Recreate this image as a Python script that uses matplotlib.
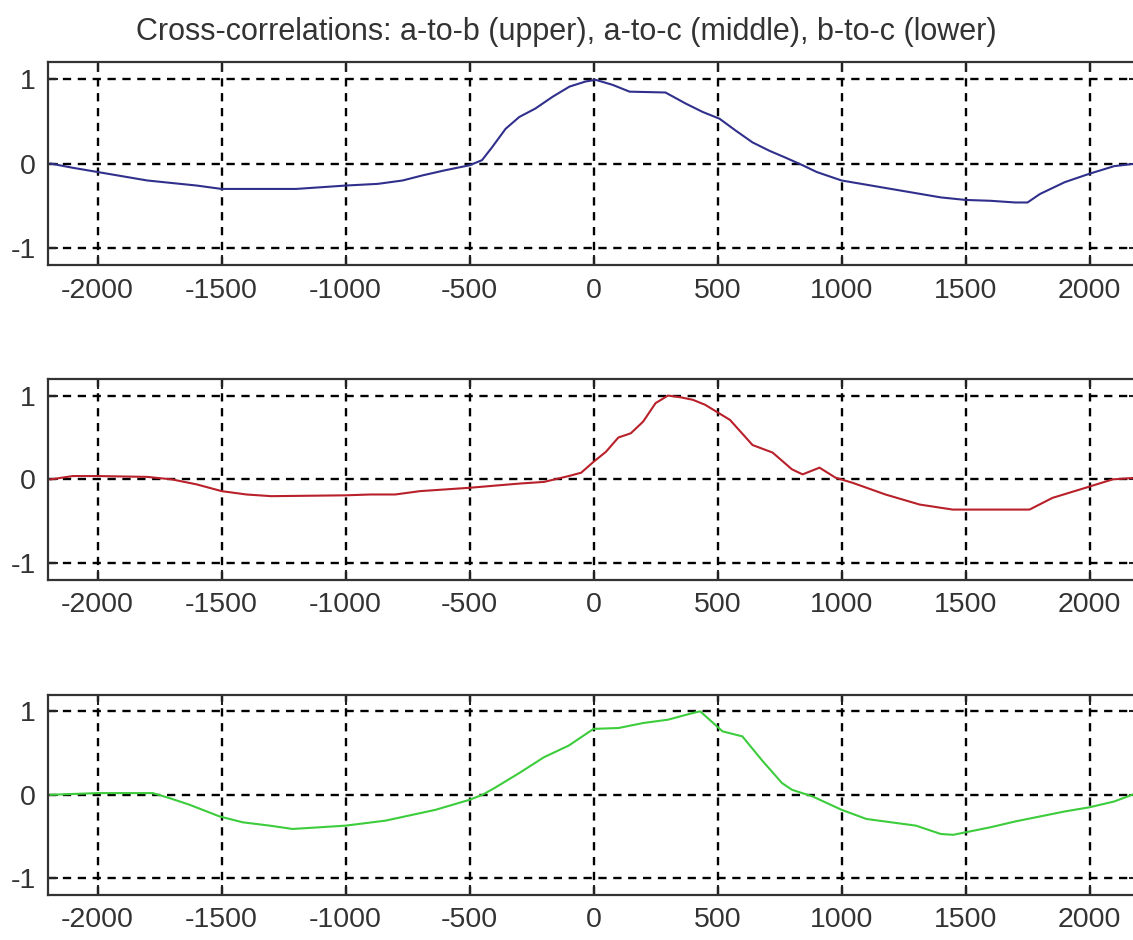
import numpy as np
import matplotlib
matplotlib.use("Agg")
import matplotlib.pyplot as plt

plt.rcParams['font.family'] = ['Liberation Sans', 'DejaVu Sans']
plt.rcParams['axes.unicode_minus'] = False

# lag values
lag_ab = [-2190, -2100, -2000, -1800, -1600, -1500, -1200, -1000, -870, -770, -690, -600,
          -500, -450, -410, -355, -300, -235, -165, -97, -32, 8, 77, 145, 290, 371,
          440, 508, 573, 641, 710, 774, 843, 900, 1000, 1200, 1400, 1500, 1600, 1700,
          1750, 1800, 1900, 2000, 2100, 2190]
corr_ab = [0.0, -0.05, -0.1, -0.2, -0.26, -0.3, -0.3, -0.26, -0.24, -0.2, -0.14, -0.08,
           -0.02, 0.04, 0.19, 0.41, 0.55, 0.65, 0.79, 0.91, 0.97, 0.99, 0.93, 0.85, 0.84, 0.71,
           0.61, 0.53, 0.39, 0.25, 0.15, 0.07, -0.02, -0.1, -0.2, -0.3, -0.4, -0.43, -0.44, -0.46,
           -0.46, -0.36, -0.22, -0.12, -0.03, 0.0]

lag_ac = [-2190, -2100, -2000, -1800, -1700, -1600, -1500, -1400, -1300, -1000, -900, -800,
          -700, -500, -300, -200, -100, -50, 0, 50, 100, 150, 200, 250, 300, 350, 400,
          450, 500, 550, 641, 722, 800, 843, 911, 976, 1044, 1177, 1315, 1448, 1758,
          1851, 1984, 2093, 2190]
corr_ac = [0.0, 0.04, 0.04, 0.03, 0.0, -0.06, -0.14, -0.18, -0.2, -0.19, -0.18, -0.18,
           -0.14, -0.1, -0.05, -0.03, 0.04, 0.08, 0.21, 0.33, 0.5, 0.55, 0.69, 0.91, 1.0, 0.98, 0.95,
           0.89, 0.8, 0.71, 0.41, 0.32, 0.12, 0.06, 0.14, 0.02, -0.04, -0.18, -0.3, -0.36, -0.36,
           -0.22, -0.1, 0.0, 0.02]

lag_bc = [-2190, -2000, -1778, -1710, -1629, -1508, -1415, -1306, -1214, -1000, -839, -637,
          -500, -448, -400, -300, -200, -100, 0, 100, 200, 300, 400, 430, 460, 520, 600,
          680, 760, 800, 883, 1000, 1100, 1200, 1300, 1400, 1450, 1500, 1600, 1700, 1800,
          1900, 2000, 2100, 2190]
corr_bc = [0.0, 0.02, 0.02, -0.04, -0.12, -0.26, -0.33, -0.37, -0.41, -0.37, -0.31, -0.18,
           -0.06, 0.0, 0.08, 0.26, 0.45, 0.59, 0.79, 0.8, 0.86, 0.9, 0.98, 1.0, 0.92, 0.76, 0.7,
           0.41, 0.14, 0.06, -0.02, -0.18, -0.29, -0.33, -0.37, -0.47, -0.48, -0.45, -0.39, -0.32, -0.26,
           -0.2, -0.15, -0.08, 0.02]

x_ticks = [-2000, -1500, -1000, -500, 0, 500, 1000, 1500, 2000]
y_ticks = [-1, 0, 1]

series = [(lag_ab, corr_ab, "#30308c"),
          (lag_ac, corr_ac, "#b8202a"),
          (lag_bc, corr_bc, "#3ccc3c")]

fig = plt.figure(figsize=(11.33, 9.4), dpi=100)
positions = [[0.0424, 0.718, 0.963, 0.216],
             [0.0424, 0.383, 0.963, 0.214],
             [0.0424, 0.048, 0.963, 0.213]]

for pos, (x, y, c) in zip(positions, series):
    ax = fig.add_axes(pos)
    ax.plot(x, y, color=c, linewidth=1.5)
    ax.set_xlim(-2200, 2200)
    ax.set_ylim(-1.2, 1.2)
    ax.set_xticks(x_ticks)
    ax.set_yticks(y_ticks)
    ax.grid(True, color="black", linestyle=(0, (3.5, 2.8)), linewidth=1.7)
    ax.tick_params(direction="in", length=7, width=1.5, top=True, right=True,
                   labelsize=20.5, labelcolor="#333333", pad=9, color="#222222")
    for s in ax.spines.values():
        s.set_linewidth(1.6)
        s.set_color("#333333")

fig.text(0.5, 0.966, "Cross-correlations: a-to-b (upper), a-to-c (middle), b-to-c (lower)",
         ha="center", va="center", fontsize=22, color="#333333")

fig.savefig("out.png", dpi=100)
